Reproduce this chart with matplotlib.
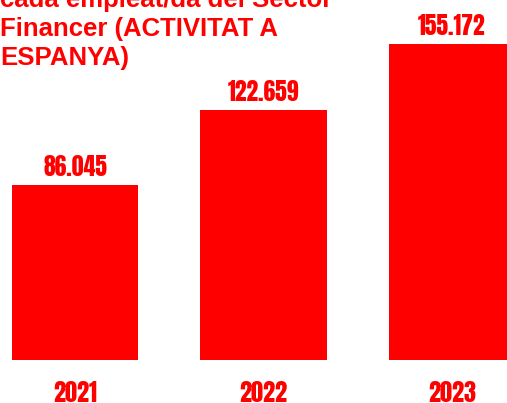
import matplotlib.pyplot as plt

anys = ['2021', '2022', '2023']
valors = [86045, 122659, 155172]
etiquetes = ['86.045', '122.659', '155.172']
titol = ['cada empleat/da del Sector', 'Financer (ACTIVITAT A', 'ESPANYA)']

vermell = '#ff0000'
font_xifres = ['Anton', 'DejaVu Sans']

fig = plt.figure(figsize=(5.07, 4.03), dpi=100)
ax = fig.add_axes([0, 0, 1, 1])

pos = list(range(len(anys)))
ax.bar(pos, valors, width=0.671, color=vermell)
ax.set_xlim(-0.398, 2.292)
ax.set_ylim(-21100, 176650)
ax.axis('off')

# etiquetes de valor sobre les barres
for x, v, t in zip(pos, valors, etiquetes):
    ax.annotate(t, (x, v), xytext=(0, 6.5), textcoords='offset points',
                ha='center', va='baseline', fontsize=17, family=font_xifres,
                color=vermell)

# anys a sota
for x, a in zip(pos, anys):
    ax.text(x, 1.5 / 403, a, transform=ax.get_xaxis_transform(),
            ha='center', va='baseline', fontsize=17.5, family=font_xifres,
            color=vermell)

# titol (tallat a dalt)
baselines = [6.7, 36.2, 65.5]
for linia, b in zip(titol, baselines):
    fig.text(0.5 / 507, 1 - b / 403, linia, ha='left', va='baseline',
             fontsize=18.5, fontweight='bold', family='Liberation Sans',
             color=vermell)

fig.savefig('out.png', dpi=100)
